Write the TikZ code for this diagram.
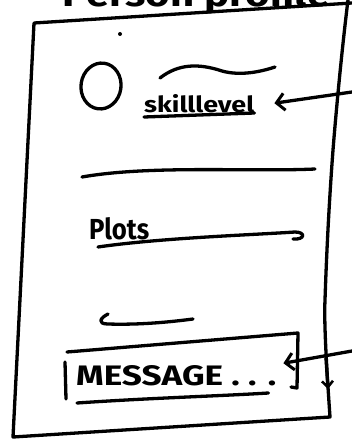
\documentclass[tikz,border=0pt]{standalone}
\usepackage{fontspec}
\setmainfont{Fira Sans}
\usetikzlibrary{arrows.meta,shapes.geometric}
\begin{document}
\begin{tikzpicture}[x=1pt,y=-1pt,
  pen/.style={line width=3.3pt,line cap=round,line join=round},
  barb/.style={-{Straight Barb[length=8pt,width=17pt,line width=3pt]}},
  smallbarb/.style={-{Straight Barb[length=6pt,width=11pt,line width=2.6pt]}},
  label/.style={inner sep=0pt,anchor=base west,font=\bfseries}]
\useasboundingbox (0,0) rectangle (352,444);
\clip (0,0) rectangle (352,444);

% page title, running off the top edge
\node[label] (title) at (62,7) {\resizebox{268pt}{26pt}{Person profile}};

% profile card frame
\coordinate (tr) at (352,3);
\coordinate (tl) at (34,23);
\coordinate (bl) at (13,437);
\coordinate (br) at (330,417);
\draw[pen] (tr) -- (tl) -- (bl) -- (br)
  .. controls (326,360) and (324,320) .. (325,300)
  .. controls (327,240) and (330,190) .. (333,150)
  .. controls (337,100) and (343,40) .. (348,0);
\fill (120,34) circle (2pt);

% avatar and skill level
\node[draw,pen,ellipse,inner sep=0pt,minimum width=40pt,minimum height=46pt,rotate=-8] (avatar) at (101,86) {};
\draw[pen] (160,78) .. controls (178,64) and (198,63) .. (222,71)
  .. controls (240,76) and (260,72) .. (275,67);
\node[label] (skill) at (144,112) {\resizebox{110pt}{18pt}{skilllevel}};
\draw[pen] ([yshift=-5pt]skill.base west) -- ([yshift=-1pt]skill.base east);
\coordinate (a1) at (352,92);
\draw[pen,barb] (a1) -- ([xshift=20pt]skill.east);

% separator
\draw[pen] (82,177) .. controls (150,165) and (250,172) .. (315,169);

% plots section
\node[label] (plots) at (89,239) {\resizebox{60pt}{22pt}{Plots}};
\draw[pen] ([shift={(9,8)}]plots.base west)
  .. controls (160,238) and (250,235) .. (295,232)
  .. controls (306,232) and (305,240) .. (293,239);

% short stroke
\draw[pen] (108,314) .. controls (100,318) and (97,324) .. (108,324)
  .. controls (140,325) and (170,322) .. (193,319);

% message field
\node[label] (msg) at (76,385) {\resizebox{200pt}{20pt}{MESSAGE . . .}};
\draw[pen] (65,362) -- (66,399);
\draw[pen] (67,352) -- (298,333) -- (297,388) -- (291,387);
\draw[pen] ([shift={(1,18)}]msg.base west) .. controls (150,398) and (220,396) .. ([shift={(-8,8)}]msg.base east);
\coordinate (a2) at (352,351);
\draw[pen,barb] (a2) -- ([shift={(7,-12)}]msg.east);

% scroll hint on the card edge
\coordinate (s1) at (326,358);
\coordinate (s2) at (328,389);
\draw[pen,smallbarb] (s1) -- (s2);
\end{tikzpicture}
\end{document}
